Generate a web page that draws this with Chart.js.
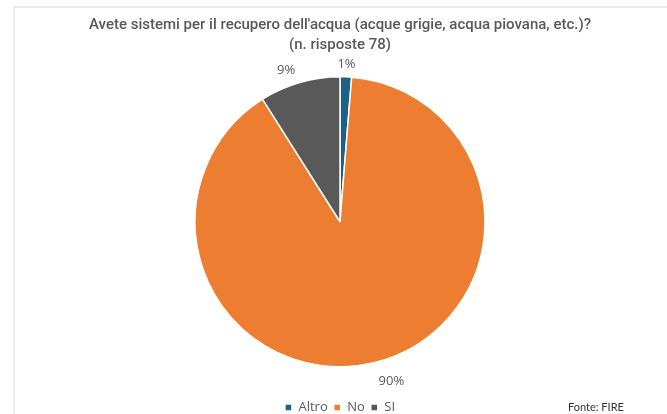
<!DOCTYPE html>
<html>
<head>
<meta charset="utf-8">
<script src="https://cdn.jsdelivr.net/npm/chart.js@4.4.1/dist/chart.umd.min.js"></script>
<style>
  html, body { margin: 0; padding: 0; background: #fff; overflow: hidden; }
  .frame {
    position: absolute; left: 13px; top: 6px; width: 680px; height: 430px;
    border-left: 2px solid #ececec; border-top: 2px solid #ececec;
  }
  .wrap { position: absolute; left: 0; top: 0; width: 667px; height: 424px; }
  .source {
    position: absolute; left: 568px; top: 400px;
    font: 11px Lato, "Liberation Sans", sans-serif; color: #333;
  }
</style>
</head>
<body>
<div class="frame"></div>
<div class="wrap"><canvas id="pieChart"></canvas></div>
<div class="source">Fonte: FIRE</div>

<script>
// ── Data ──
const titleLines = ["Avete sistemi per il recupero dell'acqua (acque grigie, acqua piovana, etc.)?", '(n. risposte 78)'];
const categories = ['Altro', 'No', 'SI'];
const responses = [1, 70, 7];
const pctLabels = ['1%', '90%', '9%'];
const sliceColors = ['#1d6189', '#ed7d31', '#595959'];

// ── Outside labels ──
const outsideLabels = {
  id: 'outsideLabels',
  afterDatasetsDraw(chart) {
    const { ctx } = chart;
    const meta = chart.getDatasetMeta(0);
    ctx.save();
    ctx.font = '13px "Open Sans", sans-serif';
    ctx.fillStyle = '#595959';
    ctx.textBaseline = 'middle';
    meta.data.forEach((arc, i) => {
      const mid = (arc.startAngle + arc.endAngle) / 2;
      const r = arc.outerRadius + 16;
      const x = arc.x + Math.cos(mid) * r;
      const y = arc.y + Math.sin(mid) * r + 3;
      const c = Math.cos(mid);
      ctx.textAlign = Math.abs(c) < 0.1 ? 'center' : (c > 0 ? 'left' : 'right');
      ctx.fillText(pctLabels[i], x, y);
    });
    ctx.restore();
  }
};

// ── Pie Chart ──
function initPieChart() {
  const ctx = document.getElementById('pieChart').getContext('2d');
  new Chart(ctx, {
    type: 'pie',
    data: {
      labels: categories,
      datasets: [{
        data: responses,
        backgroundColor: sliceColors,
        borderColor: '#ffffff',
        borderWidth: 1.5,
        radius: 145,
      }]
    },
    options: {
      responsive: true,
      maintainAspectRatio: false,
      animation: false,
      layout: { padding: { left: 13, right: 0, top: 0, bottom: 0 } },
      plugins: {
        title: {
          display: true,
          text: titleLines,
          color: '#595959',
          font: { family: 'Roboto', size: 15, weight: '500', lineHeight: 1.35 },
          padding: { top: 15, bottom: -7 }
        },
        legend: {
          position: 'bottom',
          labels: {
            boxWidth: 7,
            boxHeight: 7,
            padding: 6,
            color: '#595959',
            font: { family: '"Open Sans"', size: 13 }
          }
        },
        tooltip: { enabled: false }
      }
    },
    plugins: [outsideLabels]
  });
}

document.addEventListener('DOMContentLoaded', initPieChart);
</script>
</body>
</html>
